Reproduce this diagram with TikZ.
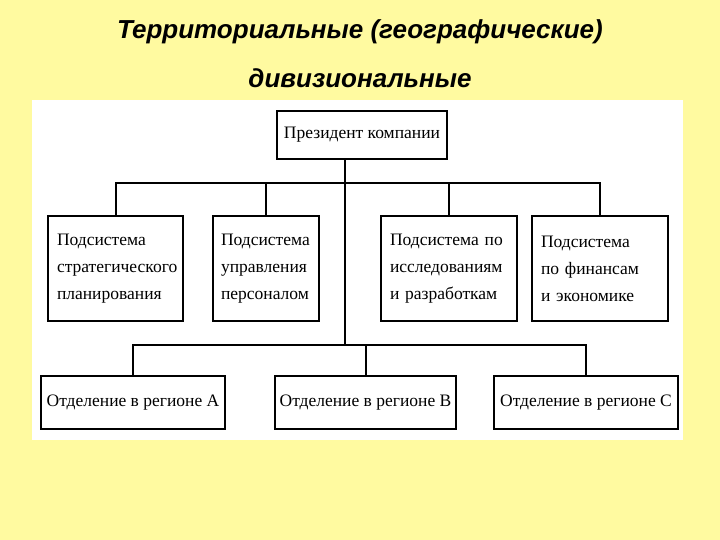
\documentclass[tikz,border=0pt]{standalone}
\usepackage{fontspec}
\setmainfont{Liberation Serif}
\newfontfamily\titlefont{Liberation Sans}
\begin{document}
\begin{tikzpicture}[x=1pt,y=-1pt,
  box/.style={draw=black,line width=2pt,fill=white,align=left,font=\fontsize{17.5}{27}\selectfont,inner sep=0pt,anchor=north west},
  conn/.style={line width=2pt}]
\fill[fill={rgb,255:red,255;green,250;blue,160}] (0,0) rectangle (720,540);
\useasboundingbox (0,0) rectangle (720,540);
\node[font=\titlefont\bfseries\itshape\fontsize{26}{30}\selectfont] (t1) at (360,32) {Территориальные (географические)};
\node[font=\titlefont\bfseries\itshape\fontsize{26}{30}\selectfont] (t2) at (360,78) {дивизиональные};
\fill[white] (32,100) rectangle (683,440);
\node[box,minimum width=170pt,minimum height=48pt,align=center] (p) at (276,110) {Президент компании};
\node[box,minimum width=135pt,minimum height=105pt,text width=125pt] (s1) at (47,215) {\hspace*{4pt}Подсистема\\\hspace*{4pt}стратегического\\\hspace*{4pt}планирования};
\node[box,minimum width=106pt,minimum height=105pt,text width=98pt] (s2) at (212,215) {\hspace*{4pt}Подсистема\\\hspace*{4pt}управления\\\hspace*{4pt}персоналом};
\node[box,minimum width=136pt,minimum height=105pt,text width=126pt] (s3) at (380,215) {\hspace*{4pt}Подсистема по\\\hspace*{4pt}исследованиям\\\hspace*{4pt}и разработкам};
\node[box,minimum width=136pt,minimum height=105pt,text width=126pt] (s4) at (531,215) {\hspace*{4pt}Подсистема\\\hspace*{4pt}по финансам\\\hspace*{4pt}и экономике};
\node[box,minimum width=184pt,minimum height=53pt,align=center] (a) at (40,375) {Отделение в регионе А};
\node[box,minimum width=181pt,minimum height=53pt,align=center] (b) at (274,375) {Отделение в регионе В};
\node[box,minimum width=184pt,minimum height=53pt,align=center] (c) at (493,375) {Отделение в регионе С};
\coordinate (j1) at (345,183);
\coordinate (j2) at (345,345);
\draw[conn] (p.south -| j1) -- (j2);
\draw[conn] (s1.north) |- (j1) -| (s4.north);
\draw[conn] (s2.north) -- (s2.north |- j1);
\draw[conn] (s3.north) -- (s3.north |- j1);
\draw[conn] (a.north) |- (j2) -| (c.north);
\draw[conn] (b.north) -- (b.north |- j2);
\end{tikzpicture}
\end{document}
